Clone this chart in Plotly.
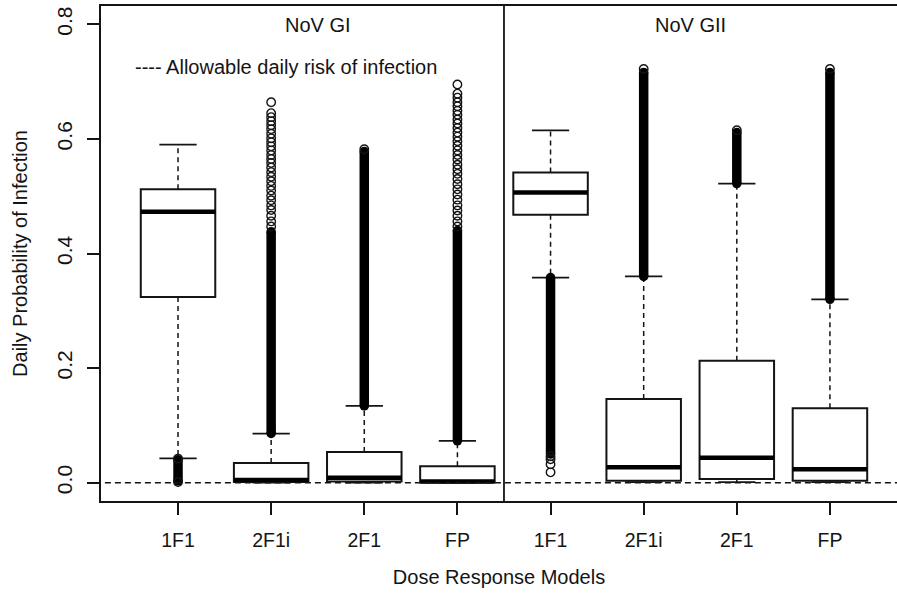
import plotly.graph_objects as go

# ---------------- data ----------------
models = ["1F1", "2F1i", "2F1", "FP", "1F1", "2F1i", "2F1", "FP"]
positions = [1, 2, 3, 4, 5, 6, 7, 8]
group_names = ["NoV GI", "NoV GII"]
group_centers = [2.5, 6.5]
group_split = 4.5

whisker_low = [0.0425, 0.000, 0.000, 0.000, 0.358, 0.001, 0.001, 0.001]
q1 = [0.324, 0.0012, 0.0022, 0.0006, 0.4675, 0.0035, 0.0065, 0.0035]
median = [0.473, 0.0045, 0.0085, 0.0022, 0.5066, 0.0268, 0.0437, 0.0233]
q3 = [0.512, 0.0344, 0.0536, 0.0285, 0.5415, 0.146, 0.213, 0.130]
whisker_high = [0.590, 0.0856, 0.134, 0.0728, 0.615, 0.360, 0.522, 0.320]

# ranges where outlier circles overlap into a solid column
dense_outlier_low = [0.003, 0.086, 0.134, 0.073, 0.050, 0.360, 0.522, 0.320]
dense_outlier_high = [0.040, 0.438, 0.578, 0.440, 0.358, 0.716, 0.611, 0.716]

# individually visible outlier circles
outliers_gi_1f1 = [0.001, 0.042]
outliers_gi_2f1i = [0.664, 0.645, 0.638, 0.631, 0.624, 0.617, 0.609, 0.601, 0.594,
                    0.587, 0.580, 0.572, 0.565, 0.558, 0.550, 0.542, 0.534, 0.526,
                    0.518, 0.510, 0.501, 0.493, 0.484, 0.476, 0.466, 0.456, 0.447]
outliers_gi_2f1 = [0.582]
outliers_gi_fp = [0.695, 0.679, 0.672, 0.664, 0.657, 0.649, 0.642, 0.634, 0.627,
                  0.619, 0.611, 0.604, 0.596, 0.588, 0.580, 0.572, 0.564, 0.555,
                  0.547, 0.539, 0.530, 0.521, 0.512, 0.503, 0.494, 0.484, 0.475,
                  0.466, 0.456, 0.447]
outliers_gii_1f1 = [0.046, 0.041, 0.032, 0.018]
outliers_gii_2f1i = [0.722]
outliers_gii_2f1 = [0.615]
outliers_gii_fp = [0.722]
outlier_lists = [outliers_gi_1f1, outliers_gi_2f1i, outliers_gi_2f1, outliers_gi_fp,
                 outliers_gii_1f1, outliers_gii_2f1i, outliers_gii_2f1, outliers_gii_fp]

allowable_daily_risk = 2.7e-7
y_ticks = [0.0, 0.2, 0.4, 0.6, 0.8]
y_tick_labels = ["0.0", "0.2", "0.4", "0.6", "0.8"]

# ---------------- styling ----------------
BOXW = 0.8
CAPW = 0.4
INK = "#141414"
FONT = "Liberation Sans, Arial, Helvetica, sans-serif"

fig = go.Figure()

# box bodies
fig.add_trace(go.Box(
    x=positions, q1=q1, median=median, q3=q3,
    lowerfence=q1, upperfence=q3, width=BOXW,
    fillcolor="white", line=dict(color=INK, width=2),
    whiskerwidth=0, boxpoints=False, showlegend=False, hoverinfo="skip",
))

def seg_lists(pairs):
    xs, ys = [], []
    for (xa, ya, xb, yb) in pairs:
        xs += [xa, xb, None]
        ys += [ya, yb, None]
    return xs, ys

# dashed whiskers
wx, wy = seg_lists([(p, q3[i], p, whisker_high[i]) for i, p in enumerate(positions)] +
                   [(p, q1[i], p, whisker_low[i]) for i, p in enumerate(positions)])
fig.add_trace(go.Scatter(x=wx, y=wy, mode="lines",
                         line=dict(color=INK, width=1.5, dash="5px,4px"),
                         showlegend=False, hoverinfo="skip"))

# whisker caps
cx, cy = seg_lists([(p - CAPW / 2, whisker_high[i], p + CAPW / 2, whisker_high[i]) for i, p in enumerate(positions)] +
                   [(p - CAPW / 2, whisker_low[i], p + CAPW / 2, whisker_low[i]) for i, p in enumerate(positions)])
fig.add_trace(go.Scatter(x=cx, y=cy, mode="lines", line=dict(color=INK, width=1.8),
                         showlegend=False, hoverinfo="skip"))

# dense outlier columns
dx, dy = seg_lists([(p, dense_outlier_low[i], p, dense_outlier_high[i]) for i, p in enumerate(positions)])
fig.add_trace(go.Scatter(x=dx, y=dy, mode="lines", line=dict(color="black", width=9.5),
                         showlegend=False, hoverinfo="skip"))
ex, ey = [], []
for i, p in enumerate(positions):
    ex += [p, p]
    ey += [dense_outlier_low[i], dense_outlier_high[i]]
fig.add_trace(go.Scatter(x=ex, y=ey, mode="markers",
                         marker=dict(symbol="circle", size=9.5, color="black"),
                         showlegend=False, hoverinfo="skip"))

# individual outlier circles
ox, oy = [], []
for i, p in enumerate(positions):
    ox += [p] * len(outlier_lists[i])
    oy += outlier_lists[i]
fig.add_trace(go.Scatter(x=ox, y=oy, mode="markers",
                         marker=dict(symbol="circle-open", size=8.5, color=INK,
                                     line=dict(width=1.4, color=INK)),
                         showlegend=False, hoverinfo="skip"))

# thick medians
mx, my = seg_lists([(p - BOXW / 2, median[i], p + BOXW / 2, median[i]) for i, p in enumerate(positions)])
fig.add_trace(go.Scatter(x=mx, y=my, mode="lines", line=dict(color="black", width=4.5),
                         showlegend=False, hoverinfo="skip"))

# allowable daily risk reference line
fig.add_trace(go.Scatter(x=[0, 9], y=[allowable_daily_risk, allowable_daily_risk], mode="lines",
                         line=dict(color=INK, width=1.5, dash="6px,4px"),
                         showlegend=False, hoverinfo="skip"))

# group separator
fig.add_shape(type="line", xref="x", yref="paper", x0=group_split, x1=group_split,
              y0=0, y1=1, line=dict(color=INK, width=1.8))

for name, c in zip(group_names, group_centers):
    fig.add_annotation(x=c, y=0.798, xref="x", yref="y", text=name, showarrow=False,
                       font=dict(size=20, color=INK, family=FONT))

fig.add_annotation(x=0.517, y=0.725, xref="x", yref="y", xanchor="left",
                   text="---- Allowable daily risk of infection", showarrow=False,
                   font=dict(size=20, color=INK, family=FONT))

fig.update_layout(
    width=897, height=597,
    margin=dict(l=101, r=0, t=6, b=96),
    plot_bgcolor="white", paper_bgcolor="white",
    font=dict(family=FONT, size=20, color=INK),
    showlegend=False,
    xaxis=dict(range=[0.173, 8.72], tickmode="array", tickvals=positions, ticktext=models,
               ticks="outside", ticklen=12, tickwidth=1.6, tickcolor=INK,
               showline=True, linecolor=INK, linewidth=1.8, mirror=True,
               showgrid=False, zeroline=False, tickfont=dict(size=19.5),
               ticklabelstandoff=9,
               title=dict(text="Dose Response Models", font=dict(size=20), standoff=20)),
    yaxis=dict(range=[-0.032, 0.832], tickmode="array", tickvals=y_ticks, ticktext=y_tick_labels,
               tickangle=-90, ticks="outside", ticklen=12, tickwidth=1.6, tickcolor=INK,
               showline=True, linecolor=INK, linewidth=1.8, mirror=False,
               showgrid=False, zeroline=False, tickfont=dict(size=21),
               ticklabelstandoff=7,
               title=dict(text="Daily Probability of Infection", font=dict(size=20), standoff=20)),
)

fig.write_html("out.html")
